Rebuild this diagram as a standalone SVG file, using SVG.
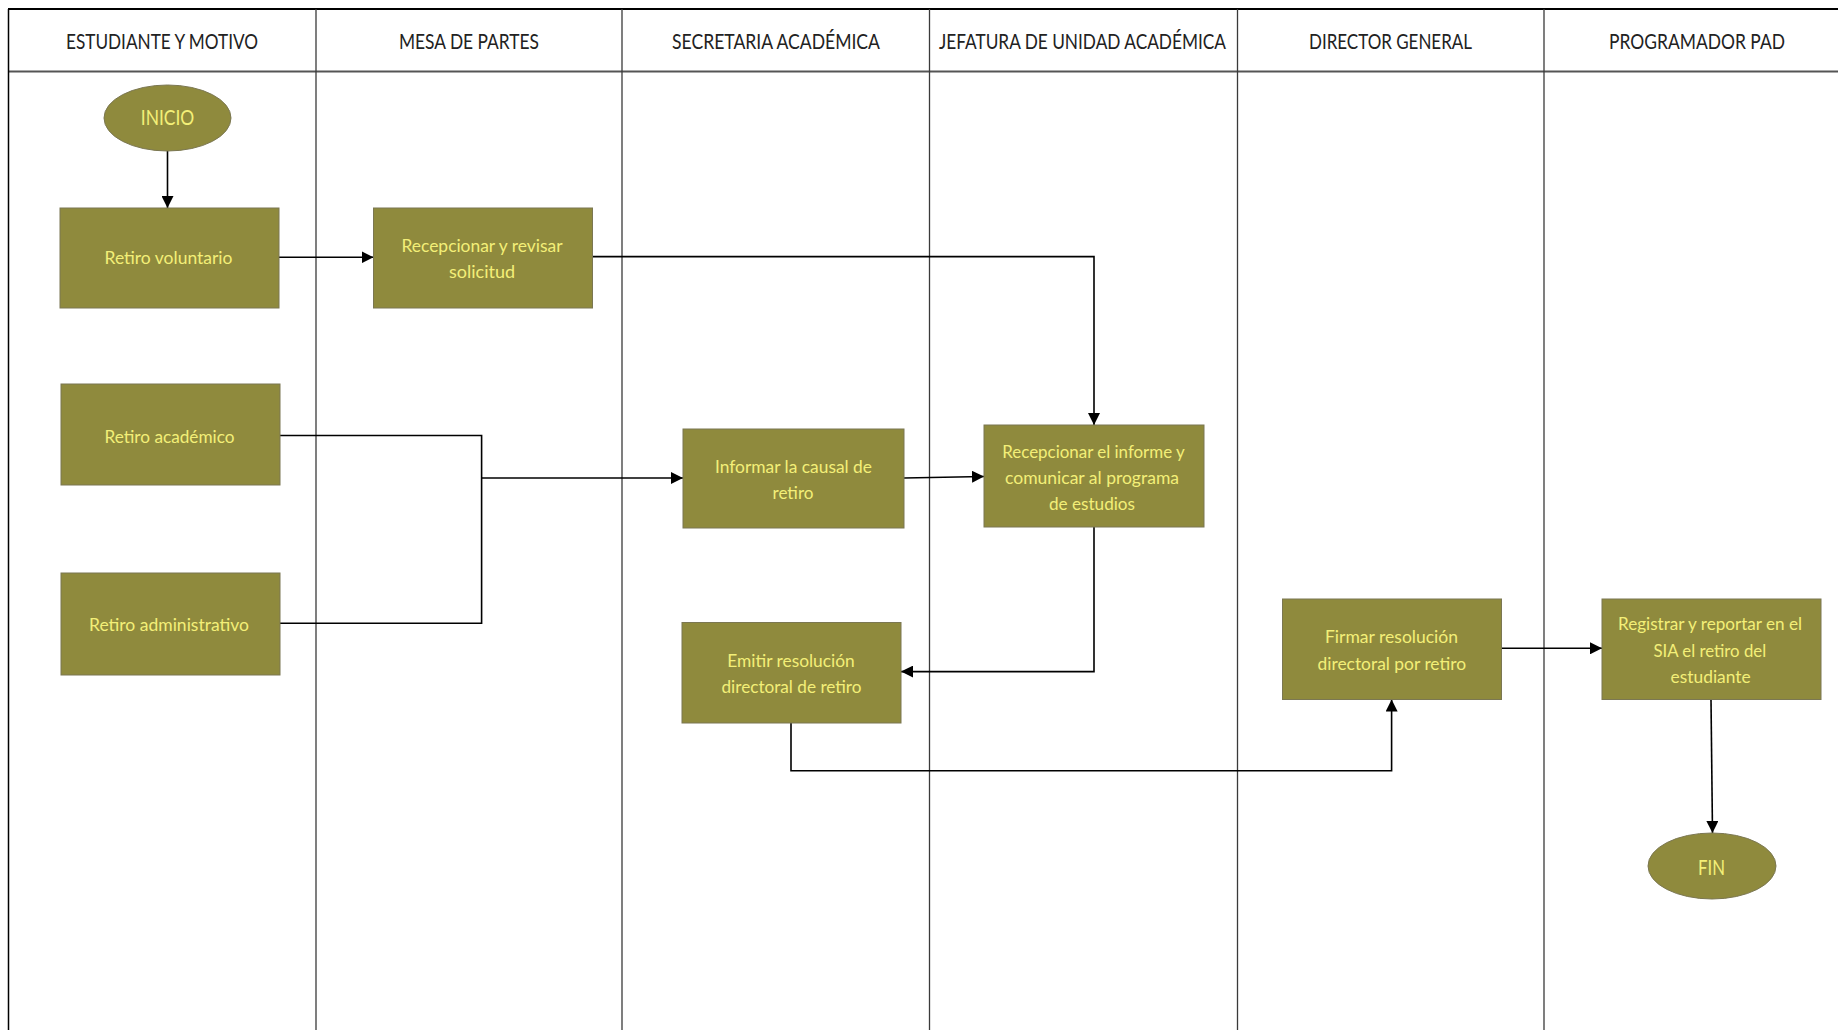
<svg xmlns="http://www.w3.org/2000/svg" width="1838" height="1030" viewBox="0 0 1838 1030">
<defs>
<style>
.lane{stroke:#3a3a3a;stroke-width:1.3;fill:none}
.hdr{font-family:Lato,"Liberation Sans",sans-serif;font-size:21px;fill:#222;text-anchor:middle;dominant-baseline:central}
.box{fill:#8f8a3d;stroke:#7b7752;stroke-width:1}
.t{font-family:Lato,"Liberation Sans",sans-serif;font-size:18px;fill:#f3ef78;text-anchor:middle;dominant-baseline:central}
.tb{font-family:Lato,"Liberation Sans",sans-serif;font-size:21px;fill:#f3ef78;text-anchor:middle;dominant-baseline:central}
.c{stroke:#000;stroke-width:1.6;fill:none}
.ca{stroke:#000;stroke-width:1.6;fill:none;marker-end:url(#ah)}
</style>
<marker id="ah" viewBox="0 0 10 10" refX="10" refY="5" markerWidth="7.5" markerHeight="7.5" markerUnits="strokeWidth" orient="auto">
<path d="M0,0 L10,5 L0,10 z" fill="#000"/>
</marker>
</defs>
<rect width="1838" height="1030" fill="#fff"/>
<g id="lanes">
<line x1="8" y1="9" x2="1838" y2="9" stroke="#000" stroke-width="2"/>
<line x1="8" y1="71.5" x2="1838" y2="71.5" stroke="#555" stroke-width="2"/>
<line x1="8.5" y1="9" x2="8.5" y2="1030" stroke="#000" stroke-width="1.5"/>
<line class="lane" x1="316" y1="9" x2="316" y2="1030"/>
<line class="lane" x1="622" y1="9" x2="622" y2="1030"/>
<line class="lane" x1="929.5" y1="9" x2="929.5" y2="1030"/>
<line class="lane" x1="1237.5" y1="9" x2="1237.5" y2="1030"/>
<line class="lane" x1="1544" y1="9" x2="1544" y2="1030"/>
<text class="hdr" x="162" y="40" textLength="192" lengthAdjust="spacingAndGlyphs">ESTUDIANTE Y MOTIVO</text>
<text class="hdr" x="469" y="40" textLength="140" lengthAdjust="spacingAndGlyphs">MESA DE PARTES</text>
<text class="hdr" x="776" y="40" textLength="208" lengthAdjust="spacingAndGlyphs">SECRETARIA ACADÉMICA</text>
<text class="hdr" x="1082.5" y="40" textLength="287" lengthAdjust="spacingAndGlyphs">JEFATURA DE UNIDAD ACADÉMICA</text>
<text class="hdr" x="1390.5" y="40" textLength="163" lengthAdjust="spacingAndGlyphs">DIRECTOR GENERAL</text>
<text class="hdr" x="1697" y="40" textLength="176" lengthAdjust="spacingAndGlyphs">PROGRAMADOR PAD</text>
</g>
<g id="connectors">
<line class="ca" x1="167.5" y1="151" x2="167.5" y2="208"/>
<line class="ca" x1="279" y1="257.3" x2="373.5" y2="257.3"/>
<polyline class="ca" points="592.7,256.6 1094,256.6 1094,425"/>
<polyline class="c" points="280,435.5 481.6,435.5 481.6,623.3 280,623.3"/>
<line class="ca" x1="481.6" y1="478" x2="683" y2="478"/>
<line class="ca" x1="904" y1="478" x2="984" y2="476.5"/>
<polyline class="ca" points="1094,527 1094,671.6 901,671.6"/>
<polyline class="ca" points="791,723 791,770.7 1391.6,770.7 1391.6,699.5"/>
<line class="ca" x1="1501.5" y1="648.3" x2="1602" y2="648.3"/>
<line class="ca" x1="1711" y1="699.5" x2="1712.5" y2="833"/>
</g>
<g id="inicio">
<ellipse class="box" cx="167.5" cy="118" rx="63.5" ry="33"/>
<text class="tb" x="167.5" y="116" textLength="53.5" lengthAdjust="spacingAndGlyphs">INICIO</text>
</g>
<g id="retiro-voluntario">
<rect class="box" x="60" y="208" width="219" height="100"/>
<text class="t" x="168.5" y="257" textLength="128" lengthAdjust="spacingAndGlyphs">Retiro voluntario</text>
</g>
<g id="recepcionar-revisar">
<rect class="box" x="373.5" y="208" width="219" height="100"/>
<text class="t" x="482" y="245" textLength="161" lengthAdjust="spacingAndGlyphs">Recepcionar y revisar</text>
<text class="t" x="482" y="270.5" textLength="66" lengthAdjust="spacingAndGlyphs">solicitud</text>
</g>
<g id="retiro-academico">
<rect class="box" x="61" y="384" width="219" height="101"/>
<text class="t" x="169.5" y="435.5" textLength="130" lengthAdjust="spacingAndGlyphs">Retiro académico</text>
</g>
<g id="retiro-administrativo">
<rect class="box" x="61" y="573" width="219" height="102"/>
<text class="t" x="169" y="623.5" textLength="160" lengthAdjust="spacingAndGlyphs">Retiro administrativo</text>
</g>
<g id="informar-causal">
<rect class="box" x="683" y="429" width="221" height="99"/>
<text class="t" x="793.5" y="466.3" textLength="157" lengthAdjust="spacingAndGlyphs">Informar la causal de</text>
<text class="t" x="793" y="492.3" textLength="41" lengthAdjust="spacingAndGlyphs">retiro</text>
</g>
<g id="recepcionar-informe">
<rect class="box" x="984" y="425" width="220" height="102"/>
<text class="t" x="1093.5" y="450.8" textLength="182.5" lengthAdjust="spacingAndGlyphs">Recepcionar el informe y</text>
<text class="t" x="1092" y="476.8" textLength="174" lengthAdjust="spacingAndGlyphs">comunicar al programa</text>
<text class="t" x="1092" y="502.5" textLength="86" lengthAdjust="spacingAndGlyphs">de estudios</text>
</g>
<g id="emitir-resolucion">
<rect class="box" x="682" y="622.5" width="219" height="100.5"/>
<text class="t" x="791" y="659.8" textLength="127.5" lengthAdjust="spacingAndGlyphs">Emitir resolución</text>
<text class="t" x="791.5" y="685.8" textLength="140" lengthAdjust="spacingAndGlyphs">directoral de retiro</text>
</g>
<g id="firmar-resolucion">
<rect class="box" x="1282.5" y="599" width="219" height="100.5"/>
<text class="t" x="1391.5" y="636.1" textLength="133" lengthAdjust="spacingAndGlyphs">Firmar resolución</text>
<text class="t" x="1391.8" y="662.8" textLength="148.5" lengthAdjust="spacingAndGlyphs">directoral por retiro</text>
</g>
<g id="registrar-reportar">
<rect class="box" x="1602" y="599" width="219" height="100.5"/>
<text class="t" x="1710" y="622.8" textLength="184" lengthAdjust="spacingAndGlyphs">Registrar y reportar en el</text>
<text class="t" x="1709.8" y="649.5" textLength="112.7" lengthAdjust="spacingAndGlyphs">SIA el retiro del</text>
<text class="t" x="1710.6" y="675.5" textLength="80" lengthAdjust="spacingAndGlyphs">estudiante</text>
</g>
<g id="fin">
<ellipse class="box" cx="1712" cy="866" rx="64" ry="33"/>
<text class="tb" x="1711.5" y="866" textLength="27" lengthAdjust="spacingAndGlyphs">FIN</text>
</g>
</svg>
